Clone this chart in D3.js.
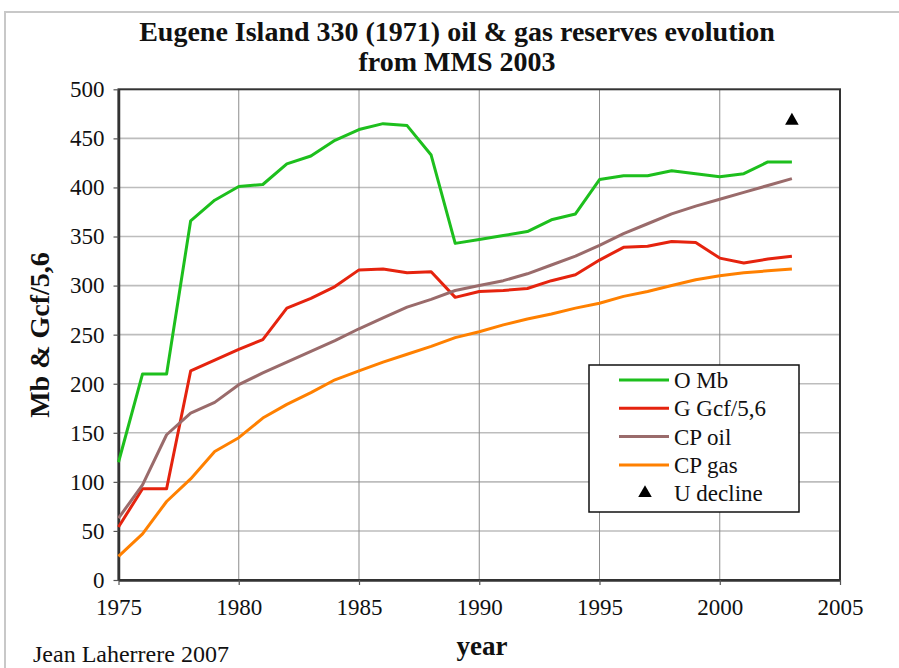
<!DOCTYPE html>
<html>
<head>
<meta charset="utf-8">
<script src="https://cdnjs.cloudflare.com/ajax/libs/d3/7.8.5/d3.min.js"></script>
<style>
  body { margin: 0; background: #fff; }
  text { font-family: "Liberation Serif", "Times New Roman", serif; fill: #111; }
</style>
</head>
<body>
<div id="chart"></div>
<script>
// data
var years = [1975, 1976, 1977, 1978, 1979, 1980, 1981, 1982, 1983, 1984, 1985, 1986, 1987, 1988, 1989,
             1990, 1991, 1992, 1993, 1994, 1995, 1996, 1997, 1998, 1999, 2000, 2001, 2002, 2003];
var oilMb = [120, 210, 210, 366, 387, 401, 403, 424, 432, 448, 459, 465, 463, 433, 343,
             347, 351, 355, 367, 373, 408, 412, 412, 417, 414, 411, 414, 426, 426];
var gasGcf = [54, 93, 93, 213, 224, 235, 245, 277, 287, 299, 316, 317, 313, 314, 288,
              294, 295, 297, 305, 311, 326, 339, 340, 345, 344, 328, 323, 327, 330];
var cpOil = [63, 97, 148, 170, 181, 199, 211, 222, 233, 244, 256, 267, 278, 286, 295,
             300, 305, 312, 321, 330, 341, 353, 363, 373, 381, 388, 395, 402, 409];
var cpGas = [24, 47, 80, 103, 131, 145, 165, 179, 191, 204, 213, 222, 230, 238, 247,
             253, 260, 266, 271, 277, 282, 289, 294, 300, 306, 310, 313, 315, 317];
var uDeclineYears = [2003];
var uDecline = [468];

var xTicks = [1975, 1980, 1985, 1990, 1995, 2000, 2005];
var yTicks = [0, 50, 100, 150, 200, 250, 300, 350, 400, 450, 500];

var seriesNames = ["O Mb", "G Gcf/5,6", "CP oil", "CP gas", "U decline"];
var seriesColors = ["#1dbf1d", "#e5230e", "#9a6b6b", "#ff8000", "#000"];

var svgWidth = 899;
var svgHeight = 668;

var svg = d3.select("#chart")
    .append("svg")
    .attr("width", svgWidth)
    .attr("height", svgHeight);

// light outer frame of the figure
svg.append("rect")
    .attr("x", 5).attr("y", 12)
    .attr("width", 920).attr("height", 700)
    .attr("fill", "none")
    .attr("stroke", "#c8c8c8")
    .attr("stroke-width", 2);

// Scales
var xScale = d3.scaleLinear().domain([1975, 2005]).range([118.5, 840]);
var yScale = d3.scaleLinear().domain([0, 500]).range([580, 89.3]);

var plot = svg.append("g");

// grid lines
plot.selectAll(".hgrid")
    .data(yTicks.slice(1, -1))
    .enter()
    .append("line")
    .attr("x1", xScale(1975)).attr("x2", xScale(2005))
    .attr("y1", d => yScale(d)).attr("y2", d => yScale(d))
    .attr("stroke", "#bdbdbd")
    .attr("stroke-width", 1.6);

plot.selectAll(".vgrid")
    .data(xTicks.slice(1, -1))
    .enter()
    .append("line")
    .attr("x1", d => xScale(d)).attr("x2", d => xScale(d))
    .attr("y1", yScale(0)).attr("y2", yScale(500))
    .attr("stroke", "#8c8c8c")
    .attr("stroke-width", 1);

// plot frame
plot.append("rect")
    .attr("x", xScale(1975)).attr("y", yScale(500))
    .attr("width", xScale(2005) - xScale(1975))
    .attr("height", yScale(0) - yScale(500))
    .attr("fill", "none")
    .attr("stroke", "#333")
    .attr("stroke-width", 2);

// Axes
var bottomAxis = d3.axisBottom(xScale)
    .tickValues(xTicks)
    .tickFormat(d3.format("d"))
    .tickSizeInner(5).tickSizeOuter(0)
    .tickPadding(14);

var leftAxis = d3.axisLeft(yScale)
    .tickValues(yTicks)
    .tickSizeInner(5).tickSizeOuter(0)
    .tickPadding(9);

var xAxisG = plot.append("g")
    .attr("transform", `translate(0, ${yScale(0)})`)
    .call(bottomAxis);

var yAxisG = plot.append("g")
    .attr("transform", `translate(${xScale(1975)}, 0)`)
    .call(leftAxis);

[xAxisG, yAxisG].forEach(function (g) {
    g.select(".domain").attr("stroke", "#333").attr("stroke-width", 2.5);
    g.selectAll(".tick line").attr("stroke", "#555").attr("stroke-width", 1.2);
    g.selectAll(".tick text")
        .attr("font-family", "Liberation Serif, Times New Roman, serif")
        .attr("font-size", "23px")
        .attr("fill", "#111");
});

// Lines
var allSeries = [oilMb, gasGcf, cpOil, cpGas];

var line = d3.line()
    .x((d, i) => xScale(years[i]))
    .y(d => yScale(d));

plot.selectAll(".series")
    .data(allSeries)
    .enter()
    .append("path")
    .attr("d", d => line(d))
    .attr("fill", "none")
    .attr("stroke", (d, i) => seriesColors[i])
    .attr("stroke-width", 3)
    .attr("stroke-linejoin", "round");

// U decline marker
var triangle = d3.symbol().type(d3.symbolTriangle).size(80);

plot.selectAll(".udecline")
    .data(uDecline)
    .enter()
    .append("path")
    .attr("d", triangle)
    .attr("transform", (d, i) => `translate(${xScale(uDeclineYears[i])}, ${yScale(d)})`)
    .attr("fill", "#000");

// Legend
var legend = svg.append("g").attr("transform", "translate(589, 365)");

legend.append("rect")
    .attr("width", 210).attr("height", 147)
    .attr("fill", "#fff")
    .attr("stroke", "#111")
    .attr("stroke-width", 1.5);

var rows = legend.selectAll(".row")
    .data(seriesNames)
    .enter()
    .append("g")
    .attr("transform", (d, i) => `translate(0, ${15 + i * 28.3})`);

rows.filter((d, i) => i < 4)
    .append("line")
    .attr("x1", 30).attr("x2", 80)
    .attr("stroke", (d, i) => seriesColors[i])
    .attr("stroke-width", 3);

rows.filter((d, i) => i == 4)
    .append("path")
    .attr("d", triangle)
    .attr("transform", "translate(56, 0)")
    .attr("fill", "#000");

rows.append("text")
    .attr("x", 85)
    .attr("dy", "0.35em")
    .attr("font-size", "23px")
    .text(d => d);

// Titles
svg.append("text")
    .attr("x", 457).attr("y", 41)
    .attr("text-anchor", "middle")
    .attr("font-size", "28px")
    .attr("font-weight", "bold")
    .text("Eugene Island 330 (1971) oil & gas reserves evolution");

svg.append("text")
    .attr("x", 457).attr("y", 71)
    .attr("text-anchor", "middle")
    .attr("font-size", "28px")
    .attr("font-weight", "bold")
    .text("from MMS 2003");

svg.append("text")
    .attr("transform", "translate(49, 335) rotate(-90)")
    .attr("text-anchor", "middle")
    .attr("font-size", "28px")
    .attr("font-weight", "bold")
    .text("Mb & Gcf/5,6");

svg.append("text")
    .attr("x", 482).attr("y", 655)
    .attr("text-anchor", "middle")
    .attr("font-size", "27px")
    .attr("font-weight", "bold")
    .text("year");

svg.append("text")
    .attr("x", 33).attr("y", 662)
    .attr("font-size", "24px")
    .text("Jean Laherrere 2007");
</script>
</body>
</html>
